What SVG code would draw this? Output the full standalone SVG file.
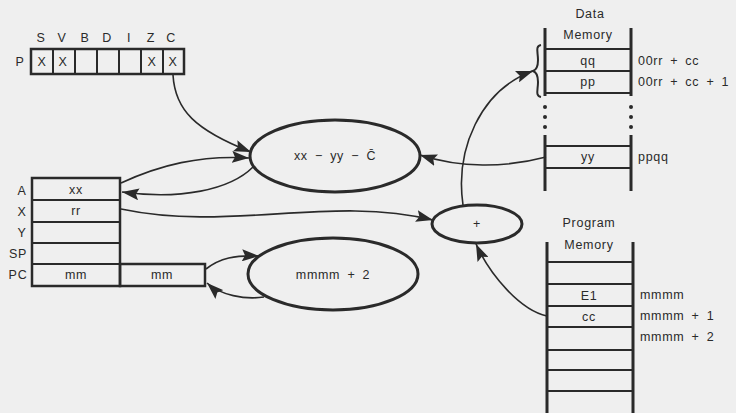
<svg xmlns="http://www.w3.org/2000/svg" width="736" height="413" viewBox="0 0 736 413">
<defs>
<style>
text{font-family:"Liberation Sans",Arial,sans-serif;fill:#2a2a2a;font-size:12.5px;letter-spacing:0.7px;word-spacing:3px}
.c{text-anchor:middle}
.box{fill:none;stroke:#2a2a2a;stroke-width:2.5}
.ln{fill:none;stroke:#2a2a2a;stroke-width:2}
.th{fill:none;stroke:#2a2a2a;stroke-width:3}
.cn{fill:none;stroke:#2a2a2a;stroke-width:1.6}
.el{fill:none;stroke:#2a2a2a;stroke-width:3}
</style>
<marker id="ah" markerUnits="userSpaceOnUse" markerWidth="18" markerHeight="12" refX="17" refY="6" orient="auto">
<path d="M0,0 L17,6 L0,12 L3,6 Z" fill="#2a2a2a"/>
</marker>
</defs>
<rect width="736" height="413" fill="#efefef"/>

<g id="flags">
<text x="41" y="42" class="c">S</text>
<text x="62" y="42" class="c">V</text>
<text x="85" y="42" class="c">B</text>
<text x="107" y="42" class="c">D</text>
<text x="129" y="42" class="c">I</text>
<text x="151" y="42" class="c">Z</text>
<text x="171" y="42" class="c">C</text>
<text x="20" y="66" class="c">P</text>
<rect x="31" y="49" width="153" height="25" class="box"/>
<path d="M53,49V74M75,49V74M97,49V74M119,49V74M141,49V74M163,49V74" class="ln"/>
<text x="42" y="66" class="c">X</text>
<text x="63" y="66" class="c">X</text>
<text x="152" y="66" class="c">X</text>
<text x="173" y="66" class="c">X</text>
</g>

<g id="registers">
<rect x="32" y="178" width="88" height="108" class="box"/>
<rect x="120" y="264" width="85" height="22" class="box"/>
<path d="M32,200H120M32,222H120M32,243H120M32,264H120" class="ln"/>
<text x="22" y="195" class="c">A</text>
<text x="22" y="216" class="c">X</text>
<text x="22" y="237" class="c">Y</text>
<text x="18" y="258" class="c">SP</text>
<text x="18" y="279" class="c">PC</text>
<text x="76" y="194" class="c">xx</text>
<text x="76" y="215" class="c">rr</text>
<text x="76" y="279" class="c">mm</text>
<text x="162" y="279" class="c">mm</text>
</g>

<g id="sub">
<ellipse cx="335" cy="156" rx="85" ry="36" class="el"/>
<text x="335" y="160" class="c">xx − yy − C̄</text>
</g>

<g id="add">
<ellipse cx="477" cy="224" rx="45" ry="19" class="el"/>
<text x="477" y="228" class="c">+</text>
</g>

<g id="inc">
<ellipse cx="333" cy="274" rx="85" ry="36" class="el"/>
<text x="333" y="279" class="c">mmmm + 2</text>
</g>

<g id="datamem">
<text x="590" y="18" class="c">Data</text>
<text x="588" y="39" class="c">Memory</text>
<path d="M545,28V96M631,28V96M545,135V191M631,135V191" class="th"/>
<path d="M545,49H631M545,71H631M545,93H631M545,146H631M545,168H631" class="ln"/>
<circle cx="545" cy="107" r="2" fill="#2a2a2a"/><circle cx="545" cy="117" r="2" fill="#2a2a2a"/><circle cx="545" cy="127" r="2" fill="#2a2a2a"/>
<circle cx="631" cy="107" r="2" fill="#2a2a2a"/><circle cx="631" cy="117" r="2" fill="#2a2a2a"/><circle cx="631" cy="127" r="2" fill="#2a2a2a"/>
<text x="588" y="65" class="c">qq</text>
<text x="588" y="86" class="c">pp</text>
<text x="588" y="161" class="c">yy</text>
<text x="638" y="65">00rr + cc</text>
<text x="638" y="86">00rr + cc + 1</text>
<text x="638" y="161">ppqq</text>
<path d="M541,45 C535,46 538,52 538,60 C538,67 536,70 533,71 C536,72 538,75 538,82 C538,90 535,96 541,97" class="ln"/>
</g>

<g id="progmem">
<text x="589" y="227" class="c">Program</text>
<text x="589" y="249" class="c">Memory</text>
<path d="M547,242V413M633,242V413" class="th"/>
<path d="M547,262H633M547,284H633M547,306H633M547,327H633M547,350H633M547,370H633M547,391H633" class="ln"/>
<text x="589" y="300" class="c">E1</text>
<text x="589" y="321" class="c">cc</text>
<text x="640" y="299">mmmm</text>
<text x="640" y="320">mmmm + 1</text>
<text x="640" y="341">mmmm + 2</text>
</g>

<g id="connectors">
<path d="M173,75 C175,110 195,130 251,152" class="cn" marker-end="url(#ah)"/>
<path d="M121,183 C160,165 200,155 249,158" class="cn" marker-end="url(#ah)"/>
<path d="M253,167 C230,190 180,200 122,192" class="cn" marker-end="url(#ah)"/>
<path d="M121,209 C230,232 330,195 433,220" class="cn" marker-end="url(#ah)"/>
<path d="M546,157 C505,168 460,168 420,155" class="cn" marker-end="url(#ah)"/>
<path d="M463,205 C455,150 480,90 533,71" class="cn" marker-end="url(#ah)"/>
<path d="M547,316 C520,310 490,275 476,244" class="cn" marker-end="url(#ah)"/>
<path d="M206,269 C220,258 235,255 259,256" class="cn" marker-end="url(#ah)"/>
<path d="M264,297 C245,300 220,295 207,283" class="cn" marker-end="url(#ah)"/>
</g>
</svg>
